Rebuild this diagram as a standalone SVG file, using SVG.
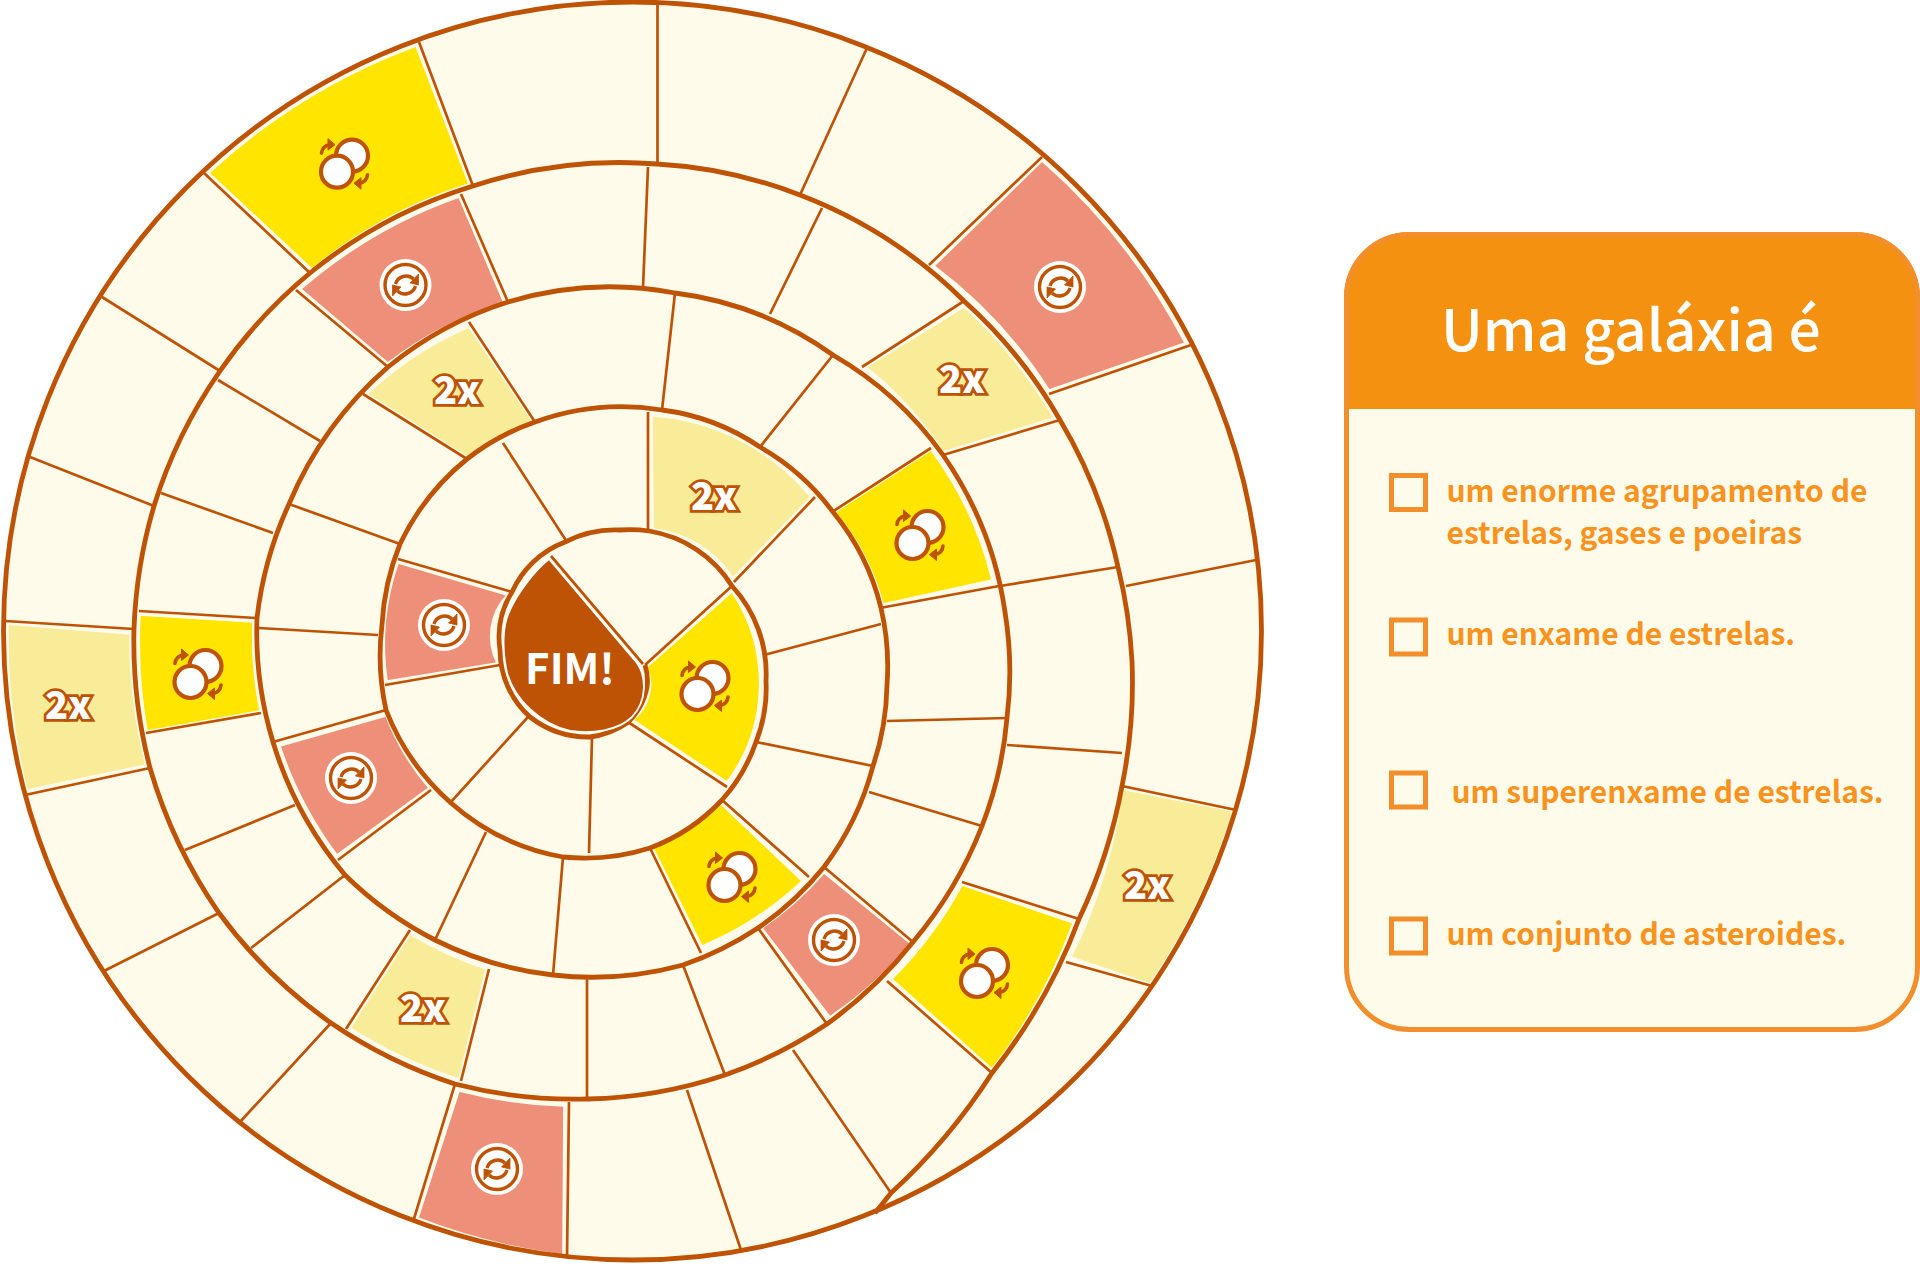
<svg xmlns="http://www.w3.org/2000/svg" xmlns:xlink="http://www.w3.org/1999/xlink" width="1920" height="1264" viewBox="0 0 1920 1264">
<style>
.y{fill:#FFE500;stroke:#FFFBEB;stroke-width:1.6}
.p{fill:#EE9079;stroke:#FFFBEB;stroke-width:1.6}
.l{fill:#F9EC98;stroke:#FFFBEB;stroke-width:1.6}
.s{fill:none;stroke:#BF5305;stroke-width:4.8}
.k{fill:none;stroke:#BF5305;stroke-width:2.7}
.t2{font-family:"Noto Sans CJK SC","Noto Sans",sans-serif;font-weight:900;font-size:38px;fill:#fff;stroke:#BF5305;stroke-width:5.6;paint-order:stroke;text-anchor:middle;stroke-linejoin:miter}
.i{font-family:"Noto Sans CJK SC","Noto Sans",sans-serif;font-weight:700;font-size:30px;fill:#F7931E}
.b{fill:none;stroke:#F28E2B;stroke-width:5}
</style>
<defs>
<g id="ex">
<circle cx="7.5" cy="-8" r="16" fill="#fff" stroke="#BF5305" stroke-width="4.2"/>
<circle cx="-7.5" cy="8" r="16" fill="#fff" stroke="#BF5305" stroke-width="4.2"/>
<path d="M-23,-10.5 A9,9 0 0 1 -15,-19" fill="none" stroke="#BF5305" stroke-width="3.6" stroke-linecap="round"/>
<path d="M-16.5,-25 L-9.5,-19 L-16.5,-13.5 Z" fill="#BF5305" stroke="#BF5305" stroke-linejoin="round"/>
<path d="M23,11 A9,9 0 0 1 15,19.5" fill="none" stroke="#BF5305" stroke-width="3.6" stroke-linecap="round"/>
<path d="M16.5,25.5 L9.5,19.5 L16.5,14 Z" fill="#BF5305" stroke="#BF5305" stroke-linejoin="round"/>
</g>
<g id="sw">
<circle r="26" fill="#fff"/>
<circle r="20.5" fill="#fff" stroke="#BF5305" stroke-width="3.4"/>
<path d="M-10,-1 A11,11 0 0 1 8,-6" fill="none" stroke="#BF5305" stroke-width="3.4"/>
<path d="M13,-11 L13,0 L4.5,-2 Z" fill="#BF5305" stroke="#BF5305" stroke-width=".8"/>
<path d="M10,1 A11,11 0 0 1 -8,6" fill="none" stroke="#BF5305" stroke-width="3.4"/>
<path d="M-13,11 L-13,0 L-4.5,2 Z" fill="#BF5305" stroke="#BF5305" stroke-width=".8"/>
</g>
</defs>
<rect width="1920" height="1264" fill="#fff"/>
<circle cx="632.5" cy="631" r="629" fill="#FFFBEB"/>

<g id="tile-yellow-1"><path class="y" d="M416,46 A625,625 0 0 0 209,173 L312,269 A470,470 0 0 1 469,184 Z"/><use href="#ex" x="344.5" y="163.7"/></g>
<g id="tile-pink-1"><path class="p" d="M459,197 A490,490 0 0 0 301,289 L388,363 A360,360 0 0 1 504,303 Z"/><use href="#sw" x="405.5" y="285"/></g>
<g id="tile-2x-1"><path class="l" d="M469,327 A360,360 0 0 0 367,394 L467,457 A240,240 0 0 1 533,422 Z"/><text class="t2" x="457" y="404">2x</text></g>
<g id="tile-pink-2"><path class="p" d="M398,563 L507,595 A60,60 0 0 0 497,663 L387,681 A250,250 0 0 1 398,563 Z"/><use href="#sw" x="444" y="625"/></g>
<g id="tile-yellow-2"><path class="y" d="M647,667 L732,592 A165,165 0 0 1 727,782 L633,720 A45,45 0 0 0 647,667 Z"/><use href="#ex" x="705" y="686"/></g>
<g id="tile-2x-2"><path class="l" d="M652,416 A225,225 0 0 1 811,497 L733,578 A110,110 0 0 0 653,529 Z"/><text class="t2" x="714" y="510">2x</text></g>
<g id="tile-2x-3"><path class="l" d="M964,307 A470,470 0 0 1 1054,418 L943,452 A355,355 0 0 0 866,367 Z"/><text class="t2" x="962" y="393">2x</text></g>
<g id="tile-pink-3"><path class="p" d="M1042,161 A625,625 0 0 1 1185,343 L1049,390 A470,470 0 0 0 934,266 Z"/><use href="#sw" x="1060" y="287"/></g>
<g id="tile-yellow-3"><path class="y" d="M931,450 A360,360 0 0 1 992,580 L883,604 A240,240 0 0 0 835,512 Z"/><use href="#ex" x="920" y="535"/></g>
<g id="tile-2x-4"><path class="l" d="M1122,789 L1233,811 A625,625 0 0 1 1150,984 L1071,957 A510,510 0 0 0 1122,789 Z"/><text class="t2" x="1147" y="899">2x</text></g>
<g id="tile-yellow-4"><path class="y" d="M962,885 L1073,923 A540,540 0 0 1 992,1069 L892,979 A410,410 0 0 0 962,885 Z"/><use href="#ex" x="984.5" y="973"/></g>
<g id="tile-pink-4"><path class="p" d="M824,873 L911,944 A420,420 0 0 1 830,1017 L762,928 A320,320 0 0 0 824,873 Z"/><use href="#sw" x="834" y="940"/></g>
<g id="tile-yellow-5"><path class="y" d="M721,804 L802,881 A330,330 0 0 1 702,946 L653,848 A220,220 0 0 0 721,804 Z"/><use href="#ex" x="732" y="877"/></g>
<g id="tile-pink-5"><path class="p" d="M459,1091 A480,480 0 0 0 564,1106 L563,1255 A625,625 0 0 1 418,1218 Z"/><use href="#sw" x="497" y="1169"/></g>
<g id="tile-2x-5"><path class="l" d="M410,934 A380,380 0 0 0 486,969 L459,1079 A480,480 0 0 1 350,1028 Z"/><text class="t2" x="423" y="1022">2x</text></g>
<g id="tile-pink-6"><path class="p" d="M386,716 A250,250 0 0 0 429,788 L337,855 A380,380 0 0 1 280,746 Z"/><use href="#sw" x="351" y="778"/></g>
<g id="tile-yellow-6"><path class="y" d="M140,615 L253,622 A380,380 0 0 0 260,711 L147,731 A500,500 0 0 1 140,615 Z"/><use href="#ex" x="198" y="674"/></g>
<g id="tile-2x-6"><path class="l" d="M8,624 L130,634 A500,500 0 0 0 146,765 L27,790 A625,625 0 0 1 8,624 Z"/><text class="t2" x="68" y="719">2x</text></g>

<g id="connectors">
<circle class="s" cx="632.5" cy="631" r="629"/>
<path class="s" stroke-linejoin="round" d="M875,1213 L891,1193 A600,600 0 0 0 992,1073 A560,560 0 0 0 1079,919 A530,530 0 0 0 1122,786 A510,510 0 0 0 1132,661 A500,500 0 0 0 1118,567 A490,490 0 0 0 1060,420 A480,480 0 0 0 964,301 A470,470 0 0 0 800,195 A470,470 0 0 0 657,164 A470,470 0 0 0 473,186 A480,480 0 0 0 310,273 A485,485 0 0 0 220,371 A490,490 0 0 0 154,506 A495,495 0 0 0 134,629 A500,500 0 0 0 150,768 A500,500 0 0 0 219,913 A495,495 0 0 0 331,1023 A485,485 0 0 0 455,1084 A475,475 0 0 0 588,1099 A465,465 0 0 0 725,1075 A450,450 0 0 0 827,1024 A430,430 0 0 0 913,942 A410,410 0 0 0 982,826 A390,390 0 0 0 1007,718 A375,375 0 0 0 1005,612 A365,365 0 0 0 943,455 A350,350 0 0 0 833,355 A345,345 0 0 0 675,293 A350,350 0 0 0 508,302 A360,360 0 0 0 388,367 A370,370 0 0 0 289,504 A375,375 0 0 0 257,618 A378,378 0 0 0 273,742 A375,375 0 0 0 345,875 A365,365 0 0 0 435,940 A355,355 0 0 0 553,975 A345,345 0 0 0 683,965 A330,330 0 0 0 758,928 A310,310 0 0 0 824,867 A290,290 0 0 0 873,766 A265,265 0 0 0 887,685 A255,255 0 0 0 881,608 A240,240 0 0 0 833,512 A235,235 0 0 0 760,447 A225,225 0 0 0 662,410 A250,250 0 0 0 535,422 A235,235 0 0 0 467,459 A245,245 0 0 0 400,544 A250,250 0 0 0 382,625 A250,250 0 0 0 386,710 A240,240 0 0 0 451,803 A230,230 0 0 0 563,857 A215,215 0 0 0 650,848 A190,190 0 0 0 722,800 A170,170 0 0 0 756,742 A145,145 0 0 0 766,681 A130,130 0 0 0 732,586 A120,120 0 0 0 649,531 A130,130 0 0 0 620,530 A110,110 0 0 0 565,542 A95,95 0 0 0 512,592 A85,85 0 0 0 500,650 A90,90 0 0 0 530,717 A95,95 0 0 0 590,737 A85,85 0 0 0 627,723 A65,65 0 0 0 647,687 A50,50 0 0 0 645,665"/>
<path class="k" d="M657.5,2V164 M866.5,49L800,195 M1042,157L929,265 M1191,345L1049,394 M1256,560L1126,586 M1236,810L1122,786 M1152,986L1066,962 M891,1193L793,1050 M741,1250L687,1090 M567,1257L569,1102 M413,1222L455,1084 M240,1122L331,1023 M104,971L219,913 M25,795L150,768 M5,621L134,629 M30,457L154,506 M102,297L220,371 M204,173L310,273 M419,42L473,186"/>
<path class="k" d="M648,167L643,288 M822,208L770,314 M964,301L862,367 M1060,420L943,455 M1118,567L1000,586 M1122,753L1007,745 M1079,919L962,882 M992,1073L887,981 M725,1075L683,965 M587,1098L587,979 M489,969L461,1081 M410,930L346,1029 M251,948L345,875 M185,850L295,805 M146,733L261,713 M139,611L256,618 M161,493L273,533 M218,380L320,441 M296,290L388,367 M461,194L508,302"/>
<path class="k" d="M675,293L662,410 M833,355L760,447 M931,448L832,512 M999,586L880,608 M1007,718L887,721 M982,826L869,792 M913,942L824,867 M827,1024L758,928 M701,953L650,848 M553,975L563,857 M435,940L486,832 M338,860L431,790 M273,742L386,710 M259,628L378,635 M289,504L400,544 M363,394L467,459 M469,322L535,422 M809,877L722,800 M873,766L756,742 M881,624L764,655"/>
<path class="k" d="M648,412V532 M503,443L567,542 M398,559L512,592 M385,685L500,665 M450,803L528,717 M589,853L592,737 M727,787L628,722 M733,585L645,665 M815,497L734,582 M551,556L643,664"/>
</g>

<g id="finish">
<path d="M549,559 L637,663 C646,676 648,700 632,717 C618,731 592,734 570,731 C540,724 515,700 507,673 C502,650 502,625 510,610 C518,592 535,570 549,559 Z" fill="#BF5305" stroke="#fff" stroke-width="1.8"/>
<text x="570" y="684" text-anchor="middle" font-family="'Noto Sans CJK SC','Noto Sans',sans-serif" font-weight="700" font-size="42" fill="#fff">FIM!</text>
</g>

<g id="quiz-panel">
<rect x="1346.5" y="234.5" width="571" height="795" rx="63" fill="#FFFBEB"/>
<path d="M1344,409 V297 A65,65 0 0 1 1409,232 H1855 A65,65 0 0 1 1920,297 V409 Z" fill="#F59110"/>
<rect class="b" x="1346.5" y="234.5" width="571" height="795" rx="63"/>
<text x="1631" y="351" text-anchor="middle" font-family="'Noto Sans CJK SC','Noto Sans',sans-serif" font-weight="500" font-size="57" fill="#fff">Uma galáxia é</text>
<g id="option-1"><rect class="b" x="1391.5" y="475.5" width="34" height="34"/><text class="i" x="1446.5" y="502">um enorme agrupamento de</text><text class="i" x="1446.5" y="544">estrelas, gases e poeiras</text></g>
<g id="option-2"><rect class="b" x="1391.5" y="620" width="34" height="34"/><text class="i" x="1446.5" y="645">um enxame de estrelas.</text></g>
<g id="option-3"><rect class="b" x="1391.5" y="773" width="34" height="34"/><text class="i" x="1451.5" y="803">um superenxame de estrelas.</text></g>
<g id="option-4"><rect class="b" x="1391.5" y="919" width="34" height="34"/><text class="i" x="1446.5" y="945">um conjunto de asteroides.</text></g>
</g>
</svg>
